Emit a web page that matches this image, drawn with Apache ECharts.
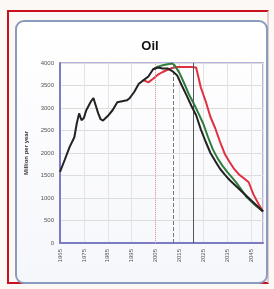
<!DOCTYPE html>
<html><head><meta charset="utf-8">
<script src="https://cdn.jsdelivr.net/npm/echarts@6/dist/echarts.min.js"></script>
<style>
html,body{margin:0;padding:0;background:#fbf8f6;}
#frame{position:absolute;left:7px;top:10px;width:262px;height:274px;border:2px solid #c8101e;border-right-color:#e3c9c9;box-sizing:border-box;}
#box{position:absolute;left:15px;top:20px;width:253px;height:264px;border:2px solid #8a9cbc;border-radius:9px;box-sizing:border-box;background:linear-gradient(#ffffff,#f6f7fb);}
#chart{position:absolute;left:0;top:0;width:274px;height:289px;}
</style></head>
<body>
<div id="frame"></div><div id="box"></div>
<div id="chart"></div>
<script>
var BASE_YEAR = 1965;
var yTicks = [0,500,1000,1500,2000,2500,3000,3500,4000];
var xTickYears = [1965,1975,1985,1995,2005,2015,2025,2035,2045];
var markYears = [2005, 2012.5, 2021];

var blackYears = [1965,1967,1969,1971,1972,1973,1974,1975,1976,1977,1978,1979,1980,1981,1982,1983,1985,1987,1989,1991,1993,1994,1996,1998,2000,2002,2004,2006,2008,2010,2012,2014,2016,2018,2020,2022,2024,2026,2028,2030,2032,2034,2036,2038,2040,2042,2044,2046,2048,2050];
var blackVals  = [1580,1850,2130,2350,2650,2880,2730,2780,2950,3050,3150,3220,3050,2880,2750,2720,2820,2950,3130,3150,3170,3210,3350,3540,3620,3700,3860,3900,3880,3880,3820,3730,3500,3280,3050,2840,2520,2250,2000,1820,1650,1520,1400,1300,1200,1100,1000,900,800,700];

var greenYears = [2004,2006,2008,2010,2012,2013,2015,2017,2019,2021,2023,2025,2027,2029,2031,2033,2035,2037,2039,2041,2043,2045,2047,2050];
var greenVals  = [3860,3920,3950,3970,3990,3950,3780,3550,3300,3100,2880,2650,2350,2080,1880,1720,1580,1460,1330,1180,1030,930,830,700];

var redYears = [2000,2002,2004,2006,2008,2010,2012,2014,2016,2018,2020,2022,2024,2026,2028,2030,2032,2034,2036,2038,2040,2042,2044,2046,2048,2050];
var redVals  = [3620,3570,3650,3740,3800,3850,3890,3910,3910,3910,3910,3900,3450,3150,2800,2550,2250,1980,1800,1640,1520,1440,1350,1080,880,700];

function pts(years, vals){ return years.map(function(y,i){ return [y-BASE_YEAR, vals[i]]; }); }

var chart = echarts.init(document.getElementById('chart'));
chart.setOption({
  animation:false,
  title:{text:'Oil',left:145,top:35,textAlign:'center',textStyle:{fontFamily:'Liberation Sans, Arial',fontWeight:'bold',fontSize:13,color:'#111'}},
  grid:{left:60,right:11,top:63,bottom:46,show:true,borderColor:'#9a9ad0',borderWidth:1.5},
  xAxis:{type:'value',min:0,max:85,interval:10,
    axisLine:{show:true,lineStyle:{color:'#7c7cc4',width:2}},
    axisTick:{show:false},
    splitLine:{show:true,lineStyle:{color:'#e4e4e4',width:1}},
    axisLabel:{rotate:90,fontSize:6,color:'#555',margin:6,fontFamily:'Liberation Sans, Arial',
      formatter:function(v){ var y=v+BASE_YEAR; return xTickYears.indexOf(y)>=0? String(y):''; }}},
  yAxis:{type:'value',min:yTicks[0],max:yTicks[yTicks.length-1],interval:500,
    name:'Million per year',nameLocation:'middle',nameGap:28,
    nameTextStyle:{fontSize:6,fontWeight:'bold',color:'#333',fontFamily:'Liberation Sans, Arial'},
    axisLine:{show:true,lineStyle:{color:'#7c7cc4',width:2}},
    axisTick:{show:false},
    splitLine:{show:true,lineStyle:{color:'#dcdcdc',width:1}},
    axisLabel:{fontSize:6,color:'#555',margin:6,fontFamily:'Liberation Sans, Arial',
      formatter:function(v){ return String(v); }}},
  series:[
    {type:'line',data:pts(redYears,redVals),showSymbol:false,lineStyle:{color:'#e0303e',width:2},z:3},
    {type:'line',data:pts(greenYears,greenVals),showSymbol:false,lineStyle:{color:'#2f7d3a',width:2},z:4},
    {type:'line',data:pts(blackYears,blackVals),showSymbol:false,lineStyle:{color:'#222',width:2},z:5,
      markLine:{silent:true,symbol:'none',label:{show:false},
        data:[
          {xAxis:markYears[0]-BASE_YEAR,lineStyle:{color:'#e7a0a8',type:'dotted',width:1}},
          {xAxis:markYears[1]-BASE_YEAR,lineStyle:{color:'#777',type:'dashed',width:1}},
          {xAxis:markYears[2]-BASE_YEAR,lineStyle:{color:'#555',type:'solid',width:1}}
        ]}}
  ]
});
</script>
</body></html>
